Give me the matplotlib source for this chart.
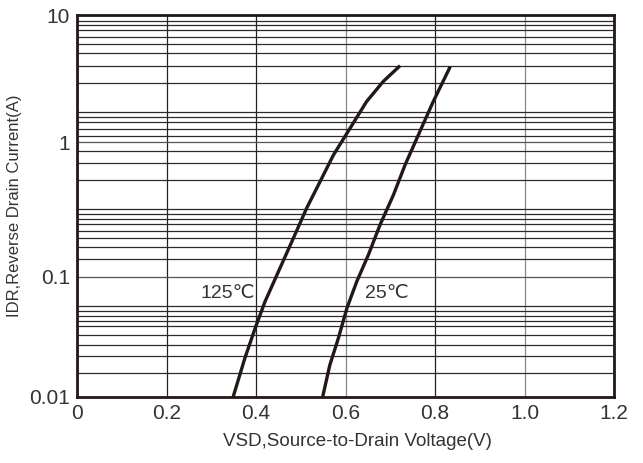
import matplotlib.pyplot as plt
import numpy as np
from matplotlib.ticker import FixedLocator, NullFormatter

plt.rcParams['font.family'] = ['Liberation Sans', 'DejaVu Sans']

# curve data (V, A)
v_125 = [0.349, 0.375, 0.398, 0.420, 0.450, 0.480, 0.513, 0.543, 0.573, 0.610, 0.647, 0.684, 0.722]
i_125 = [0.01, 0.0209, 0.0372, 0.0619, 0.109, 0.182, 0.322, 0.507, 0.801, 1.28, 2.08, 2.99, 3.99]
v_25 = [0.549, 0.565, 0.584, 0.603, 0.625, 0.651, 0.677, 0.707, 0.733, 0.766, 0.796, 0.834]
i_25 = [0.01, 0.0184, 0.0307, 0.0545, 0.0909, 0.145, 0.242, 0.404, 0.675, 1.205, 2.08, 3.92]

x_ticks = [0, 0.2, 0.4, 0.6, 0.8, 1.0, 1.2]
x_labels = ['0', '0.2', '0.4', '0.6', '0.8', '1.0', '1.2']
y_ticks = [0.01, 0.1, 1, 10]
y_labels = ['0.01', '0.1', '1', '10']

# horizontal grid lines of the original sheet (they are not evenly spaced)
y_grid = [9.02, 8.34, 7.62, 6.67, 5.88, 4.99, 3.99, 2.93, 1.71, 1.56, 1.43, 1.27, 1.11,
          0.857, 0.702, 0.520, 0.320, 0.294, 0.270, 0.245, 0.218, 0.194, 0.166, 0.136,
          0.0573, 0.0521, 0.0473, 0.0430, 0.0386, 0.0327, 0.0271, 0.0220, 0.0158]

# the decades on the original sheet have slightly different heights
dec_log = [-2, -1, 0, 1]
dec_len = [0, 120, 254.7, 381.7]


def fwd(v):
    v = np.clip(np.asarray(v, dtype=float), 1e-9, None)
    return np.interp(np.log10(v), dec_log, dec_len)


def inv(u):
    return 10 ** np.interp(u, dec_len, dec_log)


ink = '#231815'
txt = '#333333'

fig = plt.figure(figsize=(6.43, 4.63), dpi=100)
ax = fig.add_axes([0.1198, 0.1432, 0.8351, 0.8244])

ax.set_yscale('function', functions=(fwd, inv))
ax.set_xlim(0, 1.2)
ax.set_ylim(0.01, 10)

ax.set_xticks(x_ticks)
ax.set_xticklabels(x_labels)
ax.set_yticks(y_ticks)
ax.set_yticklabels(y_labels)
ax.yaxis.set_minor_locator(FixedLocator(y_grid))
ax.yaxis.set_minor_formatter(NullFormatter())
ax.xaxis.set_minor_locator(FixedLocator([]))

ax.grid(True, which='major', color='#555555', linewidth=0.9)
ax.grid(True, which='minor', axis='y', color='#2a2a2a', linewidth=0.9)
xgrid_cols = ['#222222', '#222222', '#222222', '#888888', '#222222', '#888888', '#222222']
for gl, c in zip(ax.xaxis.get_gridlines(), xgrid_cols):
    gl.set_color(c)
ax.tick_params(which='both', length=0, labelsize=15, colors=txt, pad=5)

for s in ax.spines.values():
    s.set_linewidth(2)
    s.set_color(ink)

ax.plot(v_125, i_125, color=ink, linewidth=2.4, solid_capstyle='butt')
ax.plot(v_25, i_25, color=ink, linewidth=2.4, solid_capstyle='butt')

ax.text(0.398, 0.0731, '125℃', fontsize=14, color=txt, ha='right', va='center')
ax.text(0.644, 0.0731, '25℃', fontsize=14, color=txt, ha='left', va='center')

ax.set_xlabel('VSD,Source-to-Drain Voltage(V)', fontsize=13.5, color=txt)
ax.xaxis.set_label_coords(0.523, -0.095)
ax.set_ylabel('IDR,Reverse Drain Current(A)', fontsize=12, color=txt)
ax.yaxis.set_label_coords(-0.102, 0.5)

fig.savefig('out.png', dpi=100)
